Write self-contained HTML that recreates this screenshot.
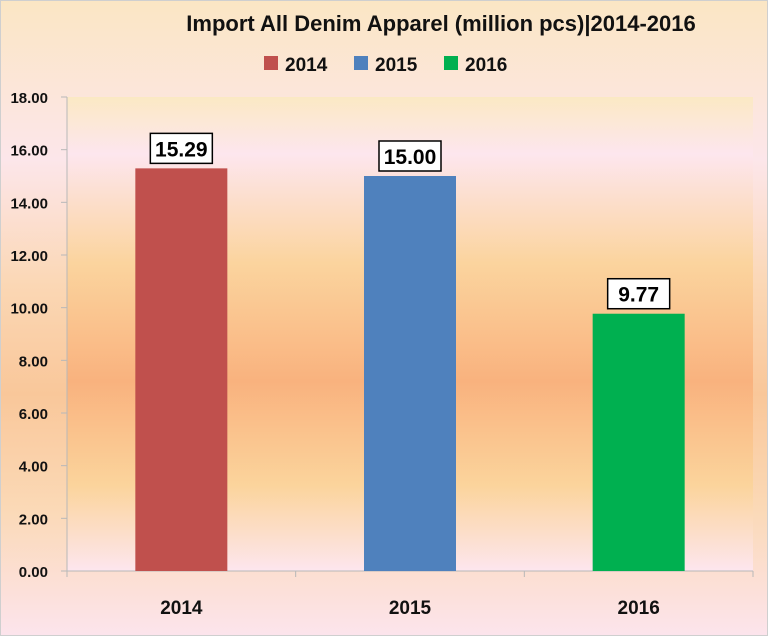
<!DOCTYPE html>
<html><head><meta charset="utf-8"><style>
body{margin:0;width:768px;height:636px;overflow:hidden;font-family:"Liberation Sans",sans-serif}
#chart{position:absolute;left:0;top:0;width:766px;height:634px;border:1px solid #cfcfcf;
background:linear-gradient(180deg,#fbe6c4 0%,#fce6ea 25%,#fbd7b4 45%,#f9c79a 62%,#fbd9b6 80%,#fce4ec 100%)}
text{font-family:"Liberation Sans",sans-serif;font-weight:bold}
</style></head><body>
<div id="chart">
<svg width="768" height="636">
<defs><linearGradient id="pg" x1="0" y1="0" x2="0" y2="1">
<stop offset="0" stop-color="#fbe9c4"/><stop offset="0.12" stop-color="#fde6ee"/>
<stop offset="0.35" stop-color="#fbd49e"/><stop offset="0.6" stop-color="#f9b27e"/>
<stop offset="0.82" stop-color="#fbd49c"/><stop offset="1" stop-color="#fde6ee"/></linearGradient></defs>
<rect x="66" y="96" width="686" height="474" fill="url(#pg)"/>
<text x="440" y="30" text-anchor="middle" font-size="22" fill="#111">Import All Denim Apparel (million pcs)|2014-2016</text>
<g id="legend"></g>
<g id="axes"></g><g id="bars"></g>
</svg></div>
<script>
const categories=["2014","2015","2016"];
const values=[15.29,15.00,9.77];
const valueLabels=["15.29","15.00","9.77"];
const colors=["#c0504d","#4f81bd","#00b050"];
const yTicks=[0,2,4,6,8,10,12,14,16,18];
const yTickLabels=["0.00","2.00","4.00","6.00","8.00","10.00","12.00","14.00","16.00","18.00"];
const NS="http://www.w3.org/2000/svg";
const L=66,R=752,T=96,B=570,yMax=18;
const y=v=>B-(v/yMax)*(B-T);
const bw=(R-L)/categories.length;
const xc=i=>L+bw*(i+0.5);
function mk(tag,attrs,parent){const e=document.createElementNS(NS,tag);for(const k in attrs)e.setAttribute(k,attrs[k]);parent.appendChild(e);return e;}
const ax=document.getElementById('axes'),bars=document.getElementById('bars'),leg=document.getElementById('legend');
yTicks.forEach((t,i)=>{
 const ln=mk('line',{x1:60,x2:L,y1:y(t),y2:y(t),stroke:'#b8b8b8'},ax);
 
 
 const tx=mk('text',{x:47,y:y(t)+6,'text-anchor':'end','font-size':15,fill:'#111'},ax);
 tx.textContent=yTickLabels[i];
 
 
});
const ya=mk('line',{x1:L,x2:L,y1:T,y2:B+6,stroke:'#b8b8b8'},ax);


const xa=mk('line',{x1:L,x2:R,y1:B,y2:B,stroke:'#b8b8b8'},ax);


for(let i=0;i<=categories.length;i++){const tk=mk('line',{x1:L+bw*i,x2:L+bw*i,y1:B,y2:B+6,stroke:'#b8b8b8'},ax);
 
 }
categories.forEach((c,i)=>{
 const w=92,x0=xc(i)-w/2,yt=y(values[i]);
 const r=mk('rect',{x:x0,y:yt,width:w,height:B-yt,fill:colors[i]},bars);
 
 
 const bx=mk('rect',{x:xc(i)-31,y:yt-35,width:62,height:30,fill:'#fff',stroke:'#000','stroke-width':1.5},bars);
 
 
 const vt=mk('text',{x:xc(i),y:yt-12,'text-anchor':'middle','font-size':21,fill:'#000'},bars);
 vt.textContent=valueLabels[i];
 
 
 const xt=mk('text',{x:xc(i),y:613,'text-anchor':'middle','font-size':19,fill:'#111'},ax);
 xt.textContent=c;
 
 
 const lx=263+i*90;
 const sw=mk('rect',{x:lx,y:55,width:14,height:14,fill:colors[i]},leg);
 
 
 const lt=mk('text',{x:lx+21,y:70,'font-size':19,fill:'#111'},leg);
 lt.textContent=c;
 
 
});
</script>
</body></html>
